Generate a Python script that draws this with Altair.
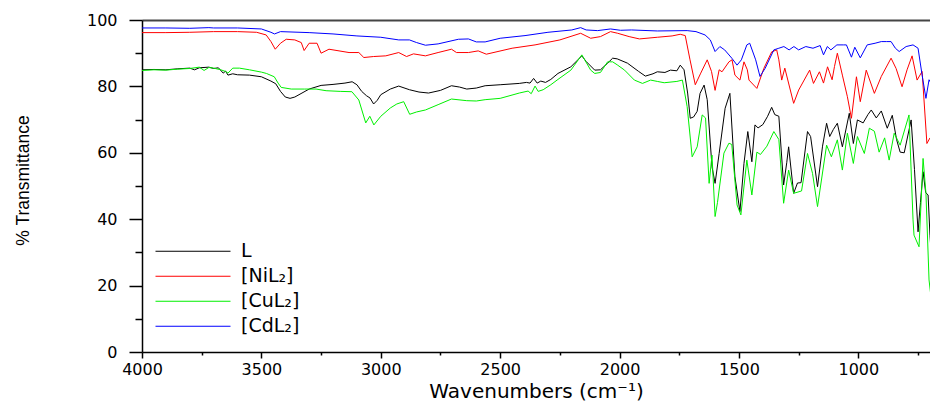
import altair as alt
import pandas as pd

series_names = ["L", "[NiL₂]", "[CuL₂]", "[CdL₂]"]
series_colors = ["#000000", "#ff0000", "#00f000", "#0000ff"]

x_major = [4000, 3500, 3000, 2500, 2000, 1500, 1000]
x_minor = [3750, 3250, 2750, 2250, 1750, 1250, 750]
y_major = [0, 20, 40, 60, 80, 100]
y_minor = [10, 30, 50, 70, 90]

# ---- L (black) ----
L_wn = [4000, 3950, 3900, 3850, 3800, 3780, 3760, 3720, 3700, 3680, 3660, 3650, 3640, 3620, 3600,
        3550, 3500, 3460, 3440, 3420, 3400, 3380, 3360, 3330, 3300, 3250, 3200, 3150, 3120, 3100,
        3080, 3060, 3045, 3030, 3015, 3000, 2960, 2925, 2880, 2840, 2800, 2750, 2704, 2670, 2640,
        2600, 2563, 2500, 2420, 2390, 2375, 2360, 2345, 2330, 2310, 2288, 2258, 2204, 2158, 2140,
        2104, 2080, 2050, 2029, 2010, 1967, 1920, 1892, 1860, 1842, 1810, 1787, 1760, 1746, 1730,
        1715, 1704, 1690, 1675, 1663, 1646, 1633, 1613, 1600, 1583, 1558, 1538, 1517, 1496, 1479,
        1463, 1446, 1433, 1420, 1400, 1380, 1363, 1350, 1333, 1313, 1300, 1292, 1271, 1255, 1240,
        1213, 1200, 1171, 1150, 1133, 1120, 1105, 1088, 1067, 1038, 1021, 1004, 980, 960, 946,
        925, 904, 879, 858, 840, 825, 808, 779, 765, 750, 740, 729, 718, 708, 700, 688]
L_t = [85.0, 85.1, 85.0, 85.3, 85.5, 85.0, 85.6, 85.8, 85.4, 85.6, 84.0, 84.6, 83.4, 83.8, 83.5,
       83.4, 82.9, 81.6, 80.8, 78.5, 76.8, 76.4, 76.8, 78.0, 79.2, 80.3, 80.6, 81.0, 81.4, 80.5,
       78.5, 77.2, 76.5, 74.7, 75.8, 77.5, 79.2, 80.1, 79.0, 78.3, 78.0, 78.8, 80.2, 79.8, 79.2,
       79.5, 80.2, 80.5, 80.9, 81.2, 81.0, 82.4, 81.0, 81.6, 81.2, 82.1, 83.9, 85.9, 89.2, 87.5,
       84.9, 85.0, 87.0, 88.5, 88.3, 87.0, 84.5, 83.1, 83.8, 84.4, 84.2, 84.9, 84.7, 86.4, 85.0,
       78.0, 70.4, 70.8, 72.5, 77.9, 80.4, 76.0, 55.8, 50.8, 59.8, 73.4, 77.9, 52.8, 42.3, 56.8,
       66.4, 57.3, 68.4, 67.5, 68.5, 71.0, 73.7, 71.5, 71.0, 50.3, 57.0, 61.8, 47.8, 50.9, 51.0,
       66.4, 64.9, 49.8, 62.0, 68.9, 64.9, 67.0, 68.9, 61.8, 71.9, 62.8, 69.9, 69.0, 71.5, 72.9,
       70.5, 72.6, 67.4, 71.3, 64.0, 60.2, 60.0, 69.9, 55.0, 36.2, 45.0, 54.3, 48.0, 47.3, 35.0, 22.3]

# ---- [NiL2] (red) ----
Ni_wn = [4000, 3900, 3800, 3700, 3600, 3520, 3480, 3460, 3442, 3420, 3396, 3360, 3333, 3321, 3300,
         3267, 3250, 3217, 3133, 3092, 3071, 3030, 2979, 2925, 2892, 2863, 2813, 2760, 2704, 2683,
         2633, 2592, 2558, 2450, 2354, 2250, 2163, 2121, 2080, 2038, 2008, 1960, 1917, 1842, 1780,
         1746, 1725, 1705, 1683, 1660, 1633, 1615, 1600, 1583, 1571, 1542, 1529, 1517, 1496, 1479,
         1465, 1458, 1425, 1396, 1363, 1342, 1333, 1321, 1308, 1271, 1250, 1204, 1188, 1163, 1146,
         1129, 1110, 1100, 1088, 1067, 1046, 1029, 1008, 992, 967, 933, 904, 863, 842, 817,
         796, 775, 754, 733, 713, 700, 683]
Ni_t = [96.2, 96.2, 96.3, 96.5, 96.5, 96.3, 95.5, 93.5, 91.2, 93.0, 94.2, 94.0, 93.2, 90.8, 93.0,
        93.0, 90.0, 91.2, 90.2, 90.2, 88.7, 89.0, 89.2, 90.2, 89.0, 89.8, 89.2, 90.2, 91.2, 90.2,
        90.2, 90.7, 89.7, 91.5, 92.5, 94.0, 96.0, 94.5, 95.0, 96.5, 96.0, 95.0, 94.3, 94.8, 95.2,
        95.7, 95.3, 88.0, 80.5, 84.0, 88.0, 84.5, 78.8, 85.0, 84.4, 87.4, 88.0, 83.4, 81.9, 87.4,
        85.0, 81.9, 79.4, 85.4, 90.4, 91.0, 88.0, 81.9, 85.5, 74.9, 78.9, 84.9, 80.9, 84.4, 81.0,
        85.9, 82.0, 86.0, 90.0, 83.4, 76.9, 70.4, 82.9, 75.4, 84.9, 77.9, 83.0, 88.5, 85.4, 79.9,
        85.0, 89.2, 81.9, 84.5, 62.8, 64.5, 63.9]

# ---- [CuL2] (green) ----
Cu_wn = [4000, 3950, 3900, 3850, 3800, 3760, 3740, 3720, 3700, 3670, 3650, 3640, 3620, 3592, 3550,
         3500, 3479, 3446, 3430, 3417, 3375, 3320, 3271, 3229, 3170, 3121, 3092, 3063, 3046, 3029,
         3000, 2960, 2933, 2904, 2879, 2850, 2813, 2760, 2704, 2640, 2600, 2563, 2500, 2420, 2383,
         2370, 2354, 2341, 2320, 2288, 2258, 2204, 2158, 2121, 2104, 2080, 2050, 2029, 2010, 1979,
         1938, 1904, 1870, 1842, 1813, 1760, 1737, 1717, 1696, 1675, 1654, 1640, 1625, 1613, 1600,
         1590, 1563, 1542, 1530, 1508, 1492, 1467, 1446, 1425, 1410, 1383, 1354, 1333, 1313, 1292,
         1271, 1238, 1213, 1192, 1171, 1133, 1113, 1088, 1067, 1046, 1021, 1004, 975, 954, 933,
         913, 890, 871, 850, 825, 788, 771, 767, 746, 729, 717, 704, 688]
Cu_t = [84.8, 85.0, 84.9, 85.2, 85.4, 85.8, 84.8, 85.7, 85.5, 85.0, 84.5, 84.0, 85.5, 85.5, 85.0,
        84.3, 83.9, 82.9, 81.0, 79.7, 79.2, 79.2, 79.2, 78.7, 78.5, 78.4, 75.9, 69.0, 71.0, 68.4,
        71.0, 73.5, 74.7, 75.4, 71.6, 72.3, 72.9, 74.5, 76.2, 75.7, 75.6, 76.0, 76.4, 78.0, 78.6,
        77.8, 80.1, 78.5, 79.0, 80.5, 82.1, 84.9, 89.5, 84.9, 83.9, 84.2, 87.4, 87.4, 86.5, 84.9,
        81.9, 80.9, 81.9, 81.5, 81.1, 81.5, 81.9, 73.9, 58.8, 61.8, 71.4, 70.5, 50.8, 59.3, 40.8,
        45.0, 59.9, 62.9, 62.5, 44.3, 41.3, 57.8, 47.3, 60.2, 59.5, 62.0, 66.4, 64.0, 44.8, 54.8,
        47.8, 48.5, 59.8, 53.8, 43.8, 62.3, 58.8, 63.9, 54.8, 65.9, 56.8, 64.9, 59.8, 67.4, 66.5,
        60.2, 64.5, 57.8, 65.9, 62.3, 71.4, 39.8, 35.2, 31.7, 58.3, 47.8, 21.7, 11.7]

# ---- [CdL2] (blue) ----
Cd_wn = [4000, 3900, 3800, 3720, 3700, 3600, 3500, 3460, 3445, 3420, 3300, 3200, 3100, 3000, 2925,
         2880, 2850, 2813, 2760, 2675, 2633, 2600, 2563, 2500, 2396, 2300, 2200, 2163, 2140, 2092,
         2038, 1996, 1950, 1842, 1717, 1680, 1642, 1620, 1600, 1580, 1560, 1530, 1508, 1490, 1467,
         1455, 1430, 1412, 1390, 1354, 1333, 1312, 1290, 1270, 1250, 1220, 1190, 1160, 1146, 1130,
         1115, 1090, 1063, 1050, 1029, 1015, 992, 963, 930, 904, 883, 863, 845, 829, 800,
         771, 750, 733, 717, 704, 683]
Cd_t = [97.6, 97.6, 97.5, 97.7, 97.6, 97.6, 97.3, 96.3, 95.8, 96.5, 96.2, 95.8, 95.2, 94.8, 94.0,
        94.0, 93.2, 92.4, 92.8, 94.2, 94.3, 93.4, 93.4, 94.5, 95.3, 96.3, 97.0, 97.7, 97.0, 96.8,
        97.3, 96.9, 97.0, 96.7, 96.8, 96.5, 95.5, 94.0, 90.5, 92.0, 91.0, 88.5, 86.4, 88.0, 92.5,
        93.0, 88.0, 83.0, 85.5, 91.0, 91.5, 92.0, 91.0, 92.0, 91.0, 92.0, 91.5, 92.3, 89.5, 92.0,
        91.0, 92.5, 92.5, 92.5, 88.8, 91.8, 88.6, 92.5, 93.0, 93.5, 93.5, 93.5, 91.5, 90.5, 92.0,
        92.5, 91.5, 83.4, 76.4, 82.0, 79.4]

frames = []
for name, wn, t in [(series_names[0], L_wn, L_t), (series_names[1], Ni_wn, Ni_t),
                    (series_names[2], Cu_wn, Cu_t), (series_names[3], Cd_wn, Cd_t)]:
    frames.append(pd.DataFrame({"series": name, "wn": wn, "t": t}))
df = pd.concat(frames, ignore_index=True)

FONT = "DejaVu Sans"
xscale = alt.Scale(domain=[700, 4000], reverse=True, nice=False, zero=False)
yscale = alt.Scale(domain=[0, 100], nice=False, zero=False)

lines = alt.Chart(df).mark_line(clip=True, strokeWidth=1).encode(
    x=alt.X("wn:Q", scale=xscale,
            axis=alt.Axis(orient="bottom", values=x_major, format="d", grid=False,
                          tickSize=6, tickWidth=1.5, tickColor="black",
                          domainColor="black", domainWidth=1.5,
                          labelFont=FONT, labelFontSize=16, labelColor="black",
                          labelBaseline="alphabetic", labelPadding=16,
                          labelFlush=False, labelOverlap=False,
                          title="Wavenumbers (cm⁻¹)", titleFont=FONT, titleFontSize=20,
                          titleFontWeight="normal", titleColor="black",
                          titleBaseline="alphabetic", titleY=45)),
    y=alt.Y("t:Q", scale=yscale,
            axis=alt.Axis(orient="left", values=y_major, grid=False,
                          tickSize=13, tickWidth=1.5, tickColor="black",
                          domainColor="black", domainWidth=1.5,
                          labelFont=FONT, labelFontSize=16, labelColor="black",
                          labelPadding=12, labelFlush=False, labelOverlap=False,
                          title="% Transmittance", titleFont="Liberation Sans",
                          titleFontSize=17.5, titleFontWeight="normal", titleColor="black",
                          titleX=-110, titleY=160)),
    color=alt.Color("series:N",
                    scale=alt.Scale(domain=series_names, range=series_colors),
                    sort=series_names,
                    legend=alt.Legend(title=None, orient="none", legendX=13, legendY=219,
                                      symbolType="stroke", symbolSize=5625,
                                      symbolStrokeWidth=1, clipHeight=24.5,
                                      labelFont=FONT, labelFontSize=19, labelColor="black",
                                      labelOffset=10, rowPadding=0, padding=0,
                                      labelLimit=0)),
    order=alt.Order("wn:Q", sort="descending"),
)

minor = alt.Chart(df).mark_point(opacity=0).encode(
    x=alt.X("wn:Q", scale=xscale,
            axis=alt.Axis(orient="bottom", values=x_minor, labels=False, domain=False,
                          grid=False, tickSize=3, tickWidth=1.5, tickColor="black",
                          title=None)),
    y=alt.Y("t:Q", scale=yscale,
            axis=alt.Axis(orient="left", values=y_minor, labels=False, domain=False,
                          grid=False, tickSize=7, tickWidth=1.5, tickColor="black",
                          title=None)),
)

top = alt.Chart(df).mark_point(opacity=0).encode(
    x=alt.X("wn:Q", scale=xscale,
            axis=alt.Axis(orient="top", labels=False, ticks=False, grid=False,
                          domain=True, domainColor="#444444", domainWidth=2, title=None)),
    y=alt.Y("t:Q", scale=yscale, axis=None),
)

chart = alt.layer(lines, minor, top).resolve_axis(x="independent", y="independent").properties(
    width=788, height=332,
    autosize=alt.AutoSizeParams(type="none"),
    padding={"left": 134, "top": 12, "right": 0, "bottom": 50},
).configure_view(stroke=None)

chart.save("out.html", embed_options={"renderer": "svg", "actions": False})
